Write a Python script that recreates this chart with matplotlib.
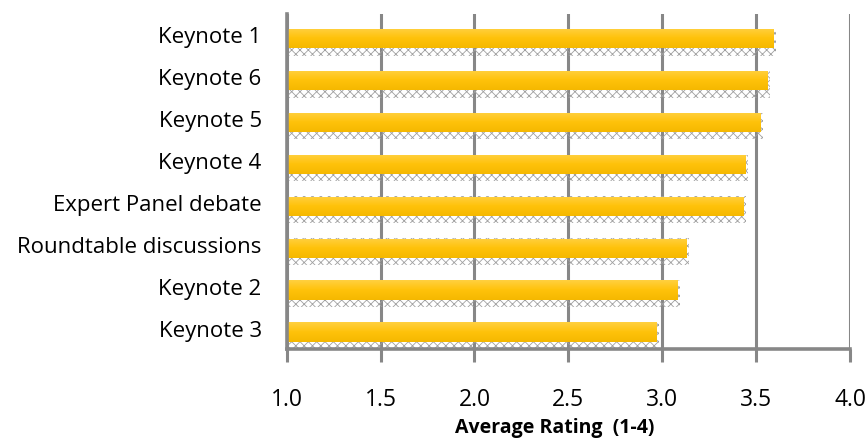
import numpy as np
import matplotlib
matplotlib.use("Agg")
import matplotlib.pyplot as plt
from matplotlib.colors import LinearSegmentedColormap

categories = ["Keynote 1", "Keynote 6", "Keynote 5", "Keynote 4",
              "Expert Panel debate", "Roundtable discussions", "Keynote 2", "Keynote 3"]
ratings = [3.59, 3.56, 3.52, 3.44, 3.43, 3.13, 3.08, 2.97]
xticks = [1.0, 1.5, 2.0, 2.5, 3.0, 3.5, 4.0]
xlabel = "Average Rating  (1-4)"

plt.rcParams['font.family'] = ['Open Sans', 'DejaVu Sans']
plt.rcParams['hatch.linewidth'] = 0.6

fig = plt.figure(figsize=(8.67, 4.40), dpi=100)
ax = fig.add_axes([0.3307, 0.2057, 0.9804 - 0.3307, 0.968 - 0.2057])

grid_c = '#878787'
n = len(categories)
pos = np.arange(n)
base = 1.0
bar_h = 0.46
bar_off = 0.083
vals = np.array(ratings)

# patterned shadow
ax.barh(pos + 0.17, vals - base + 0.015, left=base, height=0.64,
        facecolor='none', edgecolor='#a0a0a0', linewidth=0, hatch='xxxx', zorder=2)

bars = ax.barh(pos + bar_off, vals - base, left=base, height=bar_h,
               color='#FFC000', edgecolor='none', zorder=3)

cmap = LinearSegmentedColormap.from_list('gold', ['#FFD040', '#FFC20A', '#F5B800'])
grad = np.linspace(0, 1, 64).reshape(-1, 1)
for b in bars:
    x0, y0 = b.get_x(), b.get_y()
    w, h = b.get_width(), b.get_height()
    im = ax.imshow(grad, cmap=cmap, extent=[x0, x0 + w, y0 + h, y0],
                   aspect='auto', zorder=4, interpolation='bilinear')
    im.set_clip_path(b)

ax.set_xlim(1.0, 4.0)
ax.set_ylim(n - 0.5, -0.5)
ax.set_aspect('auto')
ax.set_xticks(xticks)
ax.set_xticklabels([f"{t:.1f}" for t in xticks])
ax.set_yticks(pos)
ax.set_yticklabels(categories)

ax.grid(axis='x', color=grid_c, linewidth=2.2, zorder=1)
ax.set_axisbelow(True)
for s in ['top', 'right']:
    ax.spines[s].set_visible(False)
for s in ['left', 'bottom']:
    ax.spines[s].set_color(grid_c)
    ax.spines[s].set_linewidth(2.6)
ax.spines['left'].set_zorder(5)

ax.tick_params(axis='x', direction='out', length=9, width=2.2, color=grid_c,
               labelsize=16.5, pad=19, labelcolor='black')
ax.tick_params(axis='y', length=0, labelsize=16, pad=18, labelcolor='black')
ax.set_xlabel(xlabel, fontsize=14, fontweight='bold')
ax.xaxis.set_label_coords(0.476, -0.205)

fig.savefig("out.png", dpi=100)
